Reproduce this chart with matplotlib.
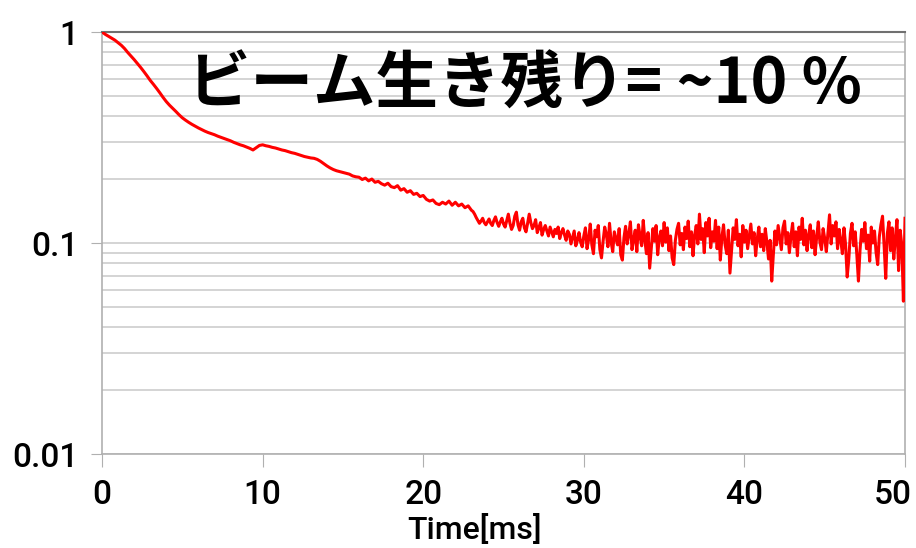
import numpy as np
import matplotlib.pyplot as plt
import matplotlib.transforms as mtransforms
from matplotlib.ticker import FixedLocator, FixedFormatter, LogLocator, NullFormatter

plt.rcParams['font.family'] = ['Roboto', 'Liberation Sans', 'DejaVu Sans']

# smooth part: 0 - 23 ms every 0.2 ms
survival_early = [
    1.00, 0.975, 0.955, 0.935, 0.915, 0.89, 0.865, 0.835, 0.80, 0.77,
    0.74, 0.71, 0.68, 0.65, 0.62, 0.59, 0.565, 0.54, 0.515, 0.49,
    0.468, 0.45, 0.435, 0.42, 0.405, 0.392,
    0.382, 0.373, 0.365, 0.358, 0.351, 0.345, 0.339, 0.334, 0.330, 0.326,
    0.321, 0.317, 0.313, 0.309, 0.305, 0.300, 0.296, 0.292, 0.289, 0.285,
    0.281, 0.276, 0.283, 0.290, 0.292,
    0.289, 0.287, 0.284, 0.282, 0.279, 0.276, 0.274, 0.271, 0.268, 0.266,
    0.263, 0.260, 0.257, 0.255, 0.253, 0.252, 0.249, 0.244, 0.238, 0.232,
    0.227, 0.223, 0.220, 0.218, 0.216,
    0.214, 0.212, 0.208, 0.206, 0.205, 0.200, 0.203, 0.197, 0.201, 0.194,
    0.196, 0.191, 0.188, 0.192, 0.185, 0.183, 0.187, 0.178, 0.181, 0.174,
    0.177, 0.170, 0.172, 0.166, 0.168,
    0.161, 0.158, 0.160, 0.154, 0.152, 0.156, 0.153, 0.158, 0.151, 0.156,
    0.150, 0.153, 0.147, 0.150, 0.143,
]

# noisy part: 23.1 - 50 ms every 0.1 ms (one row per ms)
survival_late = [
    0.141, 0.137, 0.132, 0.128, 0.124, 0.127, 0.131, 0.125, 0.122, 0.126,
    0.130, 0.124, 0.121, 0.128, 0.133, 0.125, 0.120, 0.126, 0.131, 0.123,
    0.119, 0.128, 0.137, 0.124, 0.116, 0.121, 0.134, 0.140, 0.122, 0.115,
    0.126, 0.131, 0.118, 0.113, 0.124, 0.137, 0.125, 0.117, 0.121, 0.129,
    0.112, 0.118, 0.125, 0.109, 0.116, 0.121, 0.114, 0.108, 0.119, 0.113,
    0.107, 0.116, 0.111, 0.119, 0.105, 0.112, 0.117, 0.109, 0.103, 0.114,
    0.110, 0.099, 0.106, 0.114, 0.097, 0.103, 0.112, 0.101, 0.096, 0.108,
    0.118, 0.094, 0.104, 0.123, 0.098, 0.089, 0.115, 0.107, 0.121, 0.093,
    0.085, 0.102, 0.119, 0.110, 0.096, 0.124, 0.101, 0.091, 0.113, 0.105,
    0.098, 0.117, 0.088, 0.083, 0.106, 0.120, 0.099, 0.110, 0.126, 0.093,
    0.104, 0.115, 0.091, 0.122, 0.108, 0.097, 0.128, 0.103, 0.089, 0.112,
    0.076, 0.094, 0.117, 0.102, 0.121, 0.088, 0.106, 0.114, 0.097, 0.125,
    0.101, 0.118, 0.092, 0.108, 0.085, 0.079, 0.103, 0.116, 0.124, 0.098,
    0.111, 0.093, 0.119, 0.105, 0.127, 0.096, 0.113, 0.087, 0.109, 0.121,
    0.099, 0.137, 0.104, 0.117, 0.090, 0.125, 0.108, 0.131, 0.095, 0.113,
    0.102, 0.128, 0.094, 0.119, 0.083, 0.107, 0.122, 0.098, 0.089, 0.115,
    0.072, 0.092, 0.118, 0.104, 0.129, 0.097, 0.110, 0.086, 0.121, 0.101,
    0.115, 0.094, 0.108, 0.123, 0.099, 0.112, 0.087, 0.105, 0.119, 0.096,
    0.110, 0.092, 0.117, 0.101, 0.084, 0.103, 0.066, 0.088, 0.114, 0.098,
    0.121, 0.106, 0.093, 0.118, 0.127, 0.099, 0.112, 0.090, 0.108, 0.124,
    0.096, 0.113, 0.087, 0.119, 0.104, 0.131, 0.098, 0.115, 0.092, 0.109,
    0.122, 0.095, 0.114, 0.088, 0.107, 0.126, 0.101, 0.093, 0.117, 0.105,
    0.091, 0.112, 0.136, 0.099, 0.121, 0.108, 0.126, 0.094, 0.116, 0.103,
    0.089, 0.118, 0.098, 0.069, 0.084, 0.111, 0.124, 0.097, 0.113, 0.088,
    0.066, 0.093, 0.116, 0.102, 0.125, 0.094, 0.109, 0.082, 0.119, 0.100,
    0.114, 0.090, 0.079, 0.107, 0.122, 0.134, 0.097, 0.068, 0.111, 0.126,
    0.092, 0.118, 0.084, 0.106, 0.129, 0.074, 0.115, 0.098, 0.053, 0.131,
]

time_ms = np.concatenate([np.arange(len(survival_early)) * 0.2,
                          23 + np.arange(1, len(survival_late) + 1) * 0.1])
survival = survival_early + survival_late

x_ticks = [0, 10, 20, 30, 40, 50]
y_ticks = [0.01, 0.1, 1]
y_labels = ['0.01', '0.1', '1']
note = 'ビーム生き残り= ~10 %'

fig = plt.figure(figsize=(9.16, 5.48), dpi=100)
ax = fig.add_axes([0.1114, 0.1715, 0.8766, 0.7701])

ax.plot(time_ms, survival, color='#ff0000', lw=2.2, zorder=3)

ax.set_yscale('log')
ax.set_xlim(0, 50)
ax.set_ylim(0.01, 1)

ax.yaxis.set_major_locator(FixedLocator(y_ticks))
ax.yaxis.set_major_formatter(FixedFormatter(y_labels))
ax.yaxis.set_minor_locator(LogLocator(base=10, subs=np.arange(2, 10)))
ax.yaxis.set_minor_formatter(NullFormatter())
ax.set_xticks(x_ticks)

ax.grid(True, axis='y', which='both', color='#d4d4d4', lw=1.4)
ax.grid(False, axis='x')
ax.set_axisbelow(True)

for side in ['left', 'right', 'bottom']:
    ax.spines[side].set_color('#b0b0b0')
    ax.spines[side].set_linewidth(1.2)
ax.spines['top'].set_color('#707070')
ax.spines['top'].set_linewidth(1.5)

ax.tick_params(axis='y', which='major', length=8, color='#b0b0b0',
               labelsize=24, pad=9)
ax.tick_params(axis='y', which='minor', length=0)
ax.tick_params(axis='x', length=9, color='#b0b0b0', labelsize=24, pad=9)
for lab in ax.get_xticklabels() + ax.get_yticklabels():
    lab.set_fontweight('medium')

# last x label sits left of its tick so it stays inside the picture
last = ax.get_xticklabels()[-1]
last.set_horizontalalignment('right')
last.set_transform(last.get_transform() +
                   mtransforms.ScaledTranslation(0.07, 0, fig.dpi_scale_trans))

ax.set_xlabel('Time[ms]', fontsize=23, fontweight='medium', labelpad=2)
ax.xaxis.label.set_x(0.4645)

fig.text(0.205, 0.845, note, fontsize=45, fontweight='bold',
         ha='left', va='center', family=['Noto Sans CJK JP', 'DejaVu Sans'])

fig.savefig('out.png', dpi=100)
